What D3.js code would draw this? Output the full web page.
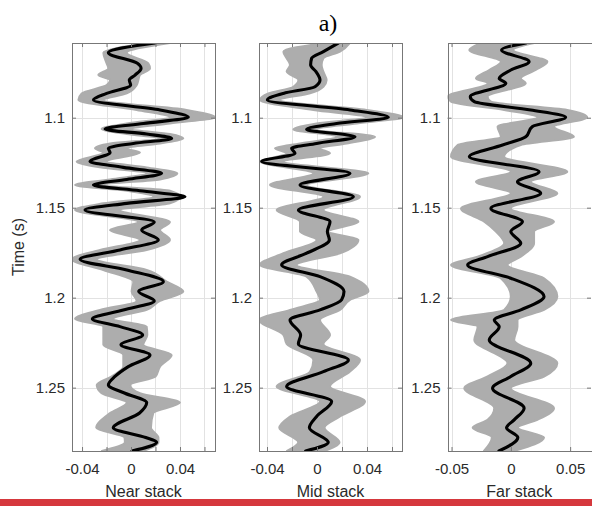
<!DOCTYPE html>
<html>
<head>
<meta charset="utf-8">
<script src="https://cdn.jsdelivr.net/npm/d3@7/dist/d3.min.js"></script>
<style>
  html, body { margin: 0; padding: 0; background: #fff; }
  svg { display: block; }
</style>
</head>
<body>
<svg id="chart" width="592" height="506"></svg>
<script>
// ---- Data: two-way time (s) vs. amplitude, per angle stack ----
// Black trace = best estimate; gray band = spread of realizations (low/high).

const nearTime = [1.0585,1.0639,1.0698,1.0726,1.0763,1.0791,1.0819,1.0865,1.0902,1.0957,1.0998,1.1032,1.1063,1.1091,1.1115,1.1143,1.1170,1.1194,1.1244,1.1276,1.1309,1.1343,1.1374,1.1406,1.1439,1.1476,1.1513,1.1580,1.1624,1.1679,1.1735,1.1787,1.1846,1.1911,1.1966,1.2018,1.2068,1.2118,1.2161,1.2207,1.2262,1.2318,1.2383,1.2438,1.2485,1.2531,1.2583,1.2641,1.2723,1.2777,1.2804,1.2852];
const nearTrace = [0.0196,-0.0185,0.0052,0.0082,0.0033,-0.0014,-0.0003,-0.0199,-0.0307,0.0237,0.0468,0.0101,-0.0212,0.0128,0.0332,0.0019,-0.0185,-0.0171,-0.0335,-0.0063,0.0250,-0.0035,-0.0307,0.0073,0.0441,-0.0035,-0.0376,0.0190,0.0087,0.0223,-0.0090,-0.0416,-0.0035,0.0264,0.0063,0.0190,-0.0063,-0.0316,-0.0090,0.0095,-0.0082,0.0155,-0.0022,-0.0131,-0.0185,-0.0049,0.0128,0.0070,-0.0145,0.0120,0.0209,0.0008];
const nearLow = [0.0142,-0.0226,-0.0199,-0.0185,-0.0267,-0.0171,-0.0199,-0.0403,-0.0430,0.0046,0.0318,-0.0035,-0.0240,-0.0035,0.0237,-0.0171,-0.0294,-0.0226,-0.0444,-0.0253,0.0128,-0.0171,-0.0457,-0.0035,0.0183,-0.0226,-0.0457,0.0060,-0.0171,0.0073,-0.0253,-0.0484,-0.0226,0.0019,0.0005,0.0046,-0.0253,-0.0457,-0.0226,-0.0226,-0.0226,-0.0063,-0.0063,-0.0160,-0.0280,-0.0240,-0.0035,-0.0171,-0.0284,-0.0053,-0.0050,-0.0238];
const nearHigh = [0.0318,-0.0035,0.0141,0.0155,0.0073,0.0060,0.0046,-0.0035,-0.0226,0.0454,0.0686,0.0318,0.0005,0.0318,0.0427,0.0237,-0.0035,0.0073,-0.0199,0.0128,0.0378,0.0237,-0.0226,0.0318,0.0400,0.0318,-0.0090,0.0318,0.0237,0.0318,0.0128,-0.0280,0.0128,0.0291,0.0427,0.0237,0.0128,-0.0144,0.0128,0.0133,0.0100,0.0332,0.0237,0.0200,-0.0008,0.0073,0.0400,0.0182,0.0163,0.0224,0.0224,0.0101];

const midTime = [1.0585,1.0633,1.0670,1.0707,1.0744,1.0791,1.0828,1.0865,1.0902,1.0957,1.0998,1.1032,1.1065,1.1106,1.1143,1.1170,1.1198,1.1244,1.1309,1.1374,1.1439,1.1513,1.1578,1.1633,1.1679,1.1753,1.1818,1.1883,1.1966,1.2012,1.2068,1.2124,1.2207,1.2257,1.2346,1.2411,1.2494,1.2577,1.2660,1.2723,1.2804,1.2852];
const midTrace = [0.0171,0.0051,-0.0043,-0.0051,-0.0008,0.0024,-0.0016,-0.0269,-0.0397,0.0264,0.0571,0.0157,-0.0083,0.0304,-0.0003,-0.0203,-0.0176,-0.0443,0.0264,-0.0136,0.0291,-0.0149,0.0104,0.0083,0.0099,-0.0083,-0.0283,0.0024,0.0216,0.0197,0.0024,-0.0216,-0.0131,-0.0149,0.0251,0.0051,-0.0243,0.0117,-0.0003,-0.0061,0.0090,-0.0091];
const midLow = [0.0064,-0.0269,-0.0243,-0.0216,-0.0243,-0.0149,-0.0189,-0.0389,-0.0456,-0.0029,0.0397,-0.0003,-0.0189,0.0157,-0.0136,-0.0336,-0.0243,-0.0456,-0.0029,-0.0376,0.0051,-0.0323,-0.0136,-0.0136,-0.0003,-0.0269,-0.0456,-0.0083,-0.0003,0.0024,-0.0216,-0.0464,-0.0269,-0.0243,-0.0029,-0.0056,-0.0323,0.0024,-0.0216,-0.0302,-0.0150,-0.0240];
const midHigh = [0.0264,0.0184,0.0051,0.0037,0.0051,0.0077,0.0051,-0.0056,-0.0296,0.0397,0.0691,0.0318,-0.0003,0.0464,0.0237,0.0024,0.0104,-0.0269,0.0411,-0.0083,0.0344,0.0051,0.0331,0.0090,0.0331,0.0184,-0.0163,0.0264,0.0411,0.0264,0.0184,0.0024,0.0104,0.0051,0.0344,0.0264,0.0104,0.0384,0.0184,0.0060,0.0180,0.0060];

const farTime = [1.0585,1.0624,1.0689,1.0735,1.0782,1.0809,1.0883,1.0911,1.0957,1.0998,1.1050,1.1106,1.1152,1.1217,1.1300,1.1356,1.1420,1.1504,1.1578,1.1633,1.1698,1.1772,1.1818,1.1892,1.1994,1.2068,1.2124,1.2161,1.2235,1.2364,1.2438,1.2503,1.2614,1.2679,1.2723,1.2777,1.2852];
const farTrace = [0.0126,-0.0078,0.0154,0.0000,-0.0098,-0.0042,-0.0342,-0.0308,0.0168,0.0462,0.0180,0.0126,-0.0070,-0.0350,0.0238,0.0056,0.0252,-0.0168,0.0098,0.0000,0.0084,-0.0196,-0.0364,0.0000,0.0280,0.0084,-0.0140,-0.0098,-0.0182,0.0168,0.0000,-0.0154,0.0112,0.0028,-0.0036,0.0059,-0.0100];
const farLow = [-0.0250,-0.0350,-0.0084,-0.0182,-0.0294,-0.0196,-0.0532,-0.0504,-0.0056,0.0224,-0.0112,-0.0084,-0.0448,-0.0504,0.0000,-0.0294,0.0000,-0.0420,-0.0224,-0.0126,-0.0056,-0.0280,-0.0504,-0.0084,0.0000,-0.0056,-0.0504,-0.0280,-0.0308,-0.0028,-0.0196,-0.0392,-0.0140,-0.0196,-0.0322,-0.0160,-0.0227];
const farHigh = [0.0196,0.0020,0.0308,0.0210,0.0084,0.0126,-0.0196,-0.0168,0.0476,0.0644,0.0364,0.0532,0.0084,-0.0056,0.0476,0.0168,0.0392,0.0000,0.0364,0.0196,0.0196,0.0084,-0.0028,0.0280,0.0392,0.0280,0.0056,0.0056,0.0028,0.0392,0.0280,0.0000,0.0364,0.0224,0.0060,0.0280,0.0027];

// Tick values
const timeTicks = [1.1, 1.15, 1.2, 1.25];
const nearTicks = [-0.04, -0.02, 0, 0.02, 0.04, 0.06];
const nearLabels = [-0.04, 0, 0.04];
const midTicks = [-0.04, -0.02, 0, 0.02, 0.04, 0.06];
const midLabels = [-0.04, 0, 0.04];
const farTicks = [-0.05, 0, 0.05];
const farLabels = [-0.05, 0, 0.05];

const panelTitles = ["Near stack", "Mid stack", "Far stack"];

// ---- Layout ----
const W = 592, H = 506;
const plotTop = 43, plotBottom = 451;
const panels = [
  { title: panelTitles[0], time: nearTime, trace: nearTrace, low: nearLow, high: nearHigh,
    domain: [-0.0482, 0.0686], ticks: nearTicks, labels: nearLabels, x0: 72, x1: 215 },
  { title: panelTitles[1], time: midTime, trace: midTrace, low: midLow, high: midHigh,
    domain: [-0.0464, 0.0680], ticks: midTicks, labels: midLabels, x0: 259, x1: 402 },
  { title: panelTitles[2], time: farTime, trace: farTrace, low: farLow, high: farHigh,
    domain: [-0.0534, 0.0676], ticks: farTicks, labels: farLabels, x0: 447.5, x1: 591 }
];

const FONT = "'Liberation Sans', Arial, Helvetica, sans-serif";
const svg = d3.select("#chart");
svg.append("rect").attr("width", W).attr("height", H).attr("fill", "#fff");

const y = d3.scaleLinear().domain([1.0585, 1.2852]).range([plotTop, plotBottom]);

const fmt = v => (Math.abs(v) < 1e-9 ? "0" : String(+v.toFixed(3)));

panels.forEach((p, i) => {
  const x = d3.scaleLinear().domain(p.domain).range([p.x0, p.x1]);
  const g = svg.append("g");

  const clipId = "clip" + i;
  svg.append("clipPath").attr("id", clipId)
    .append("rect").attr("x", p.x0).attr("y", plotTop).attr("width", p.x1 - p.x0).attr("height", plotBottom - plotTop);

  // grid
  const grid = g.append("g").attr("shape-rendering", "crispEdges");
  grid.selectAll("line.gx").data(p.ticks).join("line")
    .attr("x1", d => Math.round(x(d)) + 0.5).attr("x2", d => Math.round(x(d)) + 0.5)
    .attr("y1", plotTop).attr("y2", plotBottom)
    .attr("stroke", "#e2e2e2").attr("stroke-width", 1);
  grid.selectAll("line.gy").data(timeTicks).join("line")
    .attr("y1", d => Math.round(y(d)) + 0.5).attr("y2", d => Math.round(y(d)) + 0.5)
    .attr("x1", p.x0).attr("x2", p.x1)
    .attr("stroke", "#e2e2e2").attr("stroke-width", 1);

  const rows = p.time.map((t, k) => ({ t, v: p.trace[k], lo: p.low[k], hi: p.high[k] }));
  const plot = g.append("g").attr("clip-path", `url(#${clipId})`);

  // realization spread
  const band = d3.area()
    .y(d => y(d.t))
    .x0(d => x(d.lo))
    .x1(d => x(d.hi))
    .curve(d3.curveMonotoneY);
  plot.append("path").datum(rows).attr("d", band)
    .attr("fill", "#adadad").attr("stroke", "#adadad").attr("stroke-width", 2)
    .attr("stroke-linejoin", "round");

  // best-estimate trace
  const line = d3.line()
    .y(d => y(d.t))
    .x(d => x(d.v))
    .curve(d3.curveMonotoneY);
  plot.append("path").datum(rows).attr("d", line)
    .attr("fill", "none").attr("stroke", "#000").attr("stroke-width", 3.1)
    .attr("stroke-linejoin", "round").attr("stroke-linecap", "round");

  // axes (ticks point inward on all four sides)
  const axColor = "#777";
  const styleAxis = sel => {
    sel.select(".domain").remove();
    sel.selectAll(".tick line").attr("stroke", axColor);
    sel.selectAll("text").attr("fill", "#2a2a2a").style("font-family", FONT).style("font-size", "15px");
  };

  g.append("g").attr("transform", `translate(0,${plotBottom})`)
    .call(d3.axisBottom(x).tickValues(p.ticks).tickSizeInner(-4).tickSizeOuter(0).tickPadding(12)
      .tickFormat(d => p.labels.some(l => Math.abs(l - d) < 1e-9) ? fmt(d) : ""))
    .call(styleAxis);
  g.append("g").attr("transform", `translate(0,${plotTop})`)
    .call(d3.axisTop(x).tickValues(p.ticks).tickSizeInner(-4).tickSizeOuter(0).tickFormat(""))
    .call(styleAxis);
  g.append("g").attr("transform", `translate(${p.x0},0)`)
    .call(d3.axisLeft(y).tickValues(timeTicks).tickSizeInner(-4).tickSizeOuter(0).tickPadding(7).tickFormat(fmt))
    .call(styleAxis);
  g.append("g").attr("transform", `translate(${p.x1},0)`)
    .call(d3.axisRight(y).tickValues(timeTicks).tickSizeInner(-4).tickSizeOuter(0).tickFormat(""))
    .call(styleAxis);

  g.append("rect")
    .attr("x", Math.round(p.x0) + 0.5).attr("y", plotTop + 0.5)
    .attr("width", Math.round(p.x1 - p.x0)).attr("height", plotBottom - plotTop)
    .attr("fill", "none").attr("stroke", axColor).attr("stroke-width", 1)
    .attr("shape-rendering", "crispEdges");

  // x label
  svg.append("text")
    .attr("x", (p.x0 + p.x1) / 2).attr("y", 497)
    .attr("text-anchor", "middle")
    .style("font-family", FONT).style("font-size", "16px").attr("fill", "#2a2a2a")
    .text(p.title);
});

// y label
svg.append("text")
  .attr("transform", `translate(24,${(plotTop + plotBottom) / 2}) rotate(-90)`)
  .attr("text-anchor", "middle")
  .style("font-family", FONT).style("font-size", "16px").attr("fill", "#2a2a2a")
  .text("Time (s)");

// figure label
svg.append("text")
  .attr("x", 328).attr("y", 31)
  .attr("text-anchor", "middle")
  .style("font-family", "'Liberation Serif', 'Times New Roman', serif").style("font-size", "24px")
  .attr("fill", "#000")
  .text("a)");

// red rule along the bottom
svg.append("rect").attr("x", 0).attr("y", 499).attr("width", W).attr("height", 7).attr("fill", "#d5383d");
</script>
</body>
</html>
